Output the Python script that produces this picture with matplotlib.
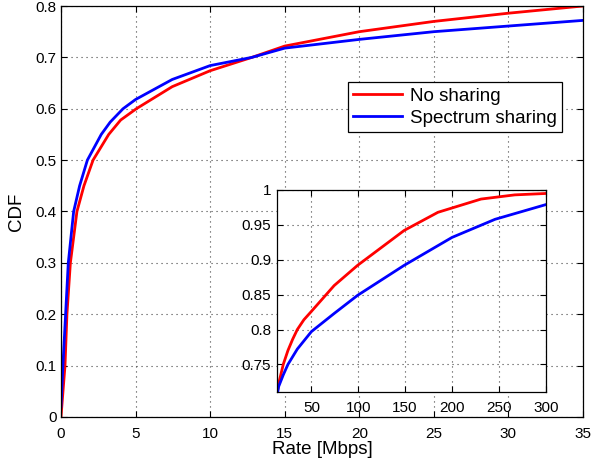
import matplotlib
matplotlib.use("Agg")
from matplotlib import pyplot as plt  # noqa
from matplotlib.ticker import FormatStrFormatter

plt.rcParams['font.family'] = ['Liberation Sans', 'DejaVu Sans']

# CDF of the rate (Mbps, CDF)
rate_no_sharing = [0, 0.27, 0.40, 0.63, 1.07, 1.54, 2.15, 3.2, 4.0, 5.05, 7.46, 10.0, 12.8, 15, 20, 25, 30,
                   35, 42, 50, 74.3, 99.3, 149, 185, 231, 267, 300]
cdf_no_sharing = [0, 0.10, 0.20, 0.30, 0.40, 0.45, 0.50, 0.55, 0.578, 0.60, 0.643, 0.674, 0.700, 0.722,
                  0.750, 0.770, 0.786, 0.800, 0.814, 0.826, 0.863, 0.892, 0.942, 0.968, 0.987, 0.993, 0.995]

rate_spectrum_sharing = [0, 0.13, 0.31, 0.49, 0.85, 1.25, 1.77, 2.7, 3.3, 4.16, 5.0, 7.46, 10.0, 12.8, 15,
                         20, 25, 30, 35, 50, 74.3, 99.3, 149, 200, 246, 300]
cdf_spectrum_sharing = [0.02, 0.10, 0.20, 0.30, 0.40, 0.45, 0.50, 0.55, 0.574, 0.60, 0.618, 0.657, 0.684,
                        0.700, 0.718, 0.735, 0.750, 0.761, 0.772, 0.797, 0.823, 0.849, 0.892, 0.932, 0.958,
                        0.979]

fig = plt.figure(figsize=(5.92, 4.69), dpi=100)


def style_axes(ax, xpad, ypad):
    ax.grid(True, linestyle=(0, (1, 3.5)), color='#444444', linewidth=0.8)
    ax.tick_params(direction='in', top=True, right=True, labelsize=11, length=4, width=0.8)
    ax.tick_params(axis='x', pad=xpad)
    ax.tick_params(axis='y', pad=ypad)
    for s in ax.spines.values():
        s.set_linewidth(0.9)
    ax.yaxis.set_major_formatter(FormatStrFormatter('%g'))


ax = fig.add_axes([0.1030, 0.1109, 0.8818, 0.8763])
ax.plot(rate_no_sharing, cdf_no_sharing, color='#ff0000', linewidth=2, label='No sharing')
ax.plot(rate_spectrum_sharing, cdf_spectrum_sharing, color='#0000ff', linewidth=2, label='Spectrum sharing')
ax.set_xlim(0, 35)
ax.set_ylim(0, 0.8)
ax.set_xticks(range(0, 36, 5))
ax.set_yticks([i / 10 for i in range(9)])
style_axes(ax, 7, 3)
ax.set_xlabel('Rate [Mbps]', fontsize=13.5, labelpad=0)
ax.set_ylabel('CDF', fontsize=13.5, labelpad=8)
leg = ax.legend(loc='upper right', bbox_to_anchor=(0.960, 0.815), borderaxespad=0, fontsize=13.5,
                fancybox=False, edgecolor='black', framealpha=1, handlelength=2.6, borderpad=0.3,
                labelspacing=0.25, handletextpad=0.4)
leg.get_frame().set_linewidth(0.9)

ins = fig.add_axes([0.4674, 0.1635, 0.4544, 0.4314])
ins.plot(rate_no_sharing, cdf_no_sharing, color='#ff0000', linewidth=2)
ins.plot(rate_spectrum_sharing, cdf_spectrum_sharing, color='#0000ff', linewidth=2)
ins.set_xlim(13, 300)
ins.set_ylim(0.71, 1)
ins.set_xticks(range(50, 301, 50))
ins.set_yticks([0.75, 0.8, 0.85, 0.9, 0.95, 1])
style_axes(ins, 6, 4)

fig.savefig('out.png', dpi=100)
